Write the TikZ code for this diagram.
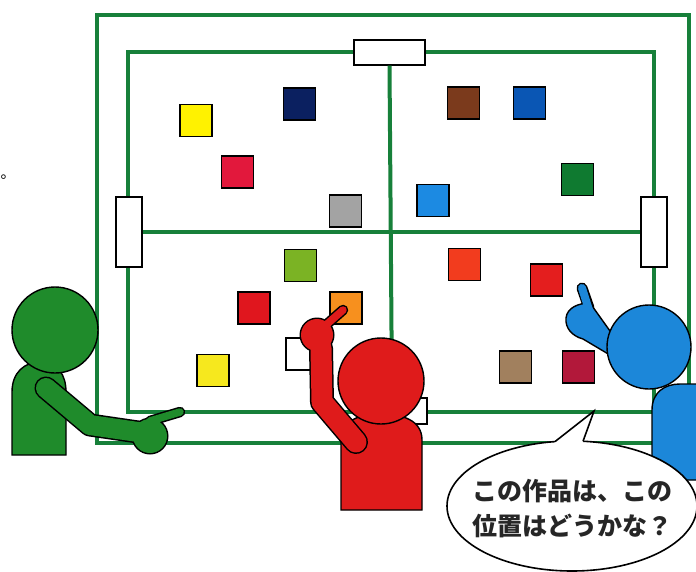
\documentclass[tikz,border=0pt]{standalone}
\usepackage{fontspec}
\newfontfamily\jp{Noto Sans CJK JP}
\definecolor{boardgreen}{HTML}{17803A}
\definecolor{pgreen}{HTML}{1F8B2B}
\definecolor{pred}{HTML}{DF1B1B}
\definecolor{pblue}{HTML}{1C87D9}
\definecolor{cyellow}{HTML}{FFF200}
\definecolor{cnavy}{HTML}{0B2060}
\definecolor{cred}{HTML}{E2183C}
\definecolor{cgray}{HTML}{A3A3A3}
\definecolor{clime}{HTML}{7BB324}
\definecolor{cbrown}{HTML}{7B3A1C}
\definecolor{cblue}{HTML}{0A56B4}
\definecolor{cdkgreen}{HTML}{0F7A30}
\definecolor{cltblue}{HTML}{1C8AE2}
\definecolor{credorange}{HTML}{F23C1E}
\definecolor{cred2}{HTML}{E41E1E}
\definecolor{cred3}{HTML}{E0161E}
\definecolor{cyellow2}{HTML}{F6E81E}
\definecolor{corange}{HTML}{F7901E}
\definecolor{ctan}{HTML}{A1805E}
\definecolor{ccrimson}{HTML}{B2183A}
\begin{document}
\begin{tikzpicture}[x=1pt,y=-1pt,
  frame/.style={draw=boardgreen, line width=4pt},
  tag/.style={draw=black, fill=white, line width=1.3pt, inner sep=0pt},
  card/.style={draw=black, line width=1.3pt, minimum size=32pt, inner sep=0pt},
  outline/.style={draw=black, line width=1.4pt},
  limbout/.style={draw=black, line cap=round, line join=round},
  limb/.style={line cap=round, line join=round}]
\useasboundingbox (0,0) rectangle (696,571);
\fill[white] (0,0) rectangle (696,571);

% board frames
\draw[frame] (97,15) rectangle (689,443);
\draw[frame] (128,52) rectangle (654,412);

% name tags on the board
\node[tag, minimum width=71pt, minimum height=25pt] (tbox) at (389.5,52.5) {};
\node[tag, minimum width=26pt, minimum height=70pt] (lbox) at (129,232) {};
\node[tag, minimum width=26pt, minimum height=70pt] (rbox) at (654,232) {};
\node[tag, minimum width=70pt, minimum height=26pt] (bbox) at (392,411) {};
\draw[frame] (tbox.south) -- (bbox.north);
\draw[frame] (lbox.east) -- (rbox.west);

% cards
\node[card, fill=cyellow]    (c1)  at (196,120.5) {};
\node[card, fill=cnavy]      (c2)  at (299.5,104) {};
\node[card, fill=cred]       (c3)  at (237.5,172) {};
\node[card, fill=cgray]      (c4)  at (345.5,211) {};
\node[card, fill=clime]      (c5)  at (300.5,265.5) {};
\node[card, fill=cbrown]     (c6)  at (463.5,103) {};
\node[card, fill=cblue]      (c7)  at (529.5,103) {};
\node[card, fill=cdkgreen]   (c8)  at (577.5,179.5) {};
\node[card, fill=cltblue]    (c9)  at (433,200.5) {};
\node[card, fill=credorange] (c10) at (464.5,264.5) {};
\node[card, fill=cred2]      (c11) at (546.5,280) {};
\node[card, fill=cred3]      (c12) at (254,308) {};
\node[card, fill=cyellow2]   (c13) at (213,370.5) {};
\node[card, fill=corange]    (c14) at (346,308) {};
\node[card, fill=ctan]       (c15) at (515.5,367) {};
\node[card, fill=ccrimson]   (c16) at (578.5,367) {};
\node[card, fill=white]      (c17) at (302,354) {};

% stray full stop at the left edge
\node[font=\jp\fontsize{15}{15}\selectfont, anchor=base west, inner sep=0pt] (stop) at (0.5,178) {。};

% green person
\filldraw[fill=pgreen, outline] (12,455) -- (12,392) .. controls (12,372) and (25,362) .. (40,362)
  .. controls (58,362) and (66,375) .. (66,392) -- (66,455) -- cycle;
\filldraw[fill=pgreen, outline] (55,330) circle[radius=43pt];
\draw[limbout, line width=23pt] (46,388) -- (90,425) -- (138,432);
\fill[black] (150,436) circle[radius=18.5pt];
\draw[limbout, line width=10.5pt] (150,421) -- (180,412);
\draw[limb, pgreen, line width=20pt] (46,388) -- (90,425) -- (138,432);
\fill[pgreen] (150,436) circle[radius=17pt];
\draw[limb, pgreen, line width=7.5pt] (150,421) -- (180,412);

% red person
\filldraw[fill=pred, outline] (341,510) -- (341,440) .. controls (341,420) and (360,414) .. (381,414)
  .. controls (402,414) and (422,420) .. (422,440) -- (422,510) -- cycle;
\draw[limbout, line width=24pt] (321,348) -- (322,402) -- (356,442);
\fill[black] (317,335) circle[radius=17.5pt];
\draw[limbout, line width=10.5pt] (318,332) -- (343,310);
\draw[limb, pred, line width=21pt] (321,348) -- (322,402) -- (356,442);
\fill[pred] (317,335) circle[radius=16pt];
\draw[limb, pred, line width=7.5pt] (318,332) -- (343,310);
\filldraw[fill=pred, outline] (381,381) circle[radius=43pt];

% blue person
\filldraw[fill=pblue, outline] (652,480) -- (652,410) .. controls (652,392) and (665,384) .. (680,384)
  -- (702,384) -- (702,480) -- cycle;
\draw[limbout, line width=11pt] (589,308) -- (582,288);
\filldraw[fill=pblue, outline] (590,303) -- (615,338) -- (615,358) -- (583,339)
  .. controls (572,336) and (565,328) .. (566,318) .. controls (567,308) and (578,303) .. (590,303) -- cycle;
\draw[limb, pblue, line width=8pt] (589,310) -- (582,288);
\filldraw[fill=pblue, outline] (649,347) circle[radius=42pt];

% speech bubble
\filldraw[fill=white, draw=black, line width=1.6pt] (572,506) ellipse[x radius=125pt, y radius=65pt];
\fill[white] (555,441.6) -- (594,411) -- (583,441.3) -- (583,447) -- (555,447) -- cycle;
\draw[black, line width=1.6pt, line join=miter] (555,441.6) -- (594,411) -- (583,441.3);
\node[font=\jp\bfseries\fontsize{25}{35}\selectfont, align=center, text=black!85] (say) at (572,509)
  {この作品は、この\\位置はどうかな？};
\end{tikzpicture}
\end{document}
